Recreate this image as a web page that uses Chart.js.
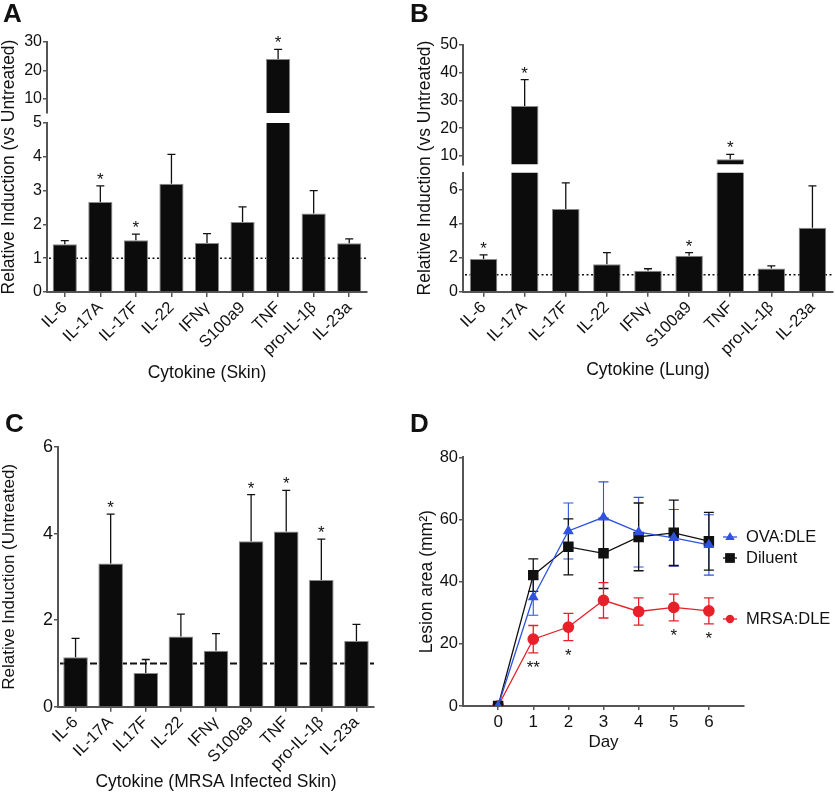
<!DOCTYPE html>
<html>
<head>
<meta charset="utf-8">
<script src="https://cdn.jsdelivr.net/npm/chart.js@4.4.0/dist/chart.umd.min.js"></script>
<style>
  body { margin: 0; background: #fff; }
  #fig { position: relative; width: 835px; height: 793px; overflow: hidden; }
  .panel { position: absolute; }
  .panel canvas { position: absolute; left: 0; top: 0; }
  .letter { position: absolute; font: bold 26px 'Liberation Sans', Arial, sans-serif; line-height: 1; color: #111; }
</style>
</head>
<body>
<div id="fig">
  <div class="panel" style="left:0;top:0;width:415px;height:400px">
    <canvas id="aTop" width="415" height="400"></canvas>
    <canvas id="aBot" width="415" height="400"></canvas>
  </div>
  <div class="panel" style="left:415px;top:0;width:420px;height:400px">
    <canvas id="bTop" width="420" height="400"></canvas>
    <canvas id="bBot" width="420" height="400"></canvas>
  </div>
  <div class="panel" style="left:0;top:400px;width:415px;height:393px">
    <canvas id="cChart" width="415" height="393"></canvas>
  </div>
  <div class="panel" style="left:415px;top:400px;width:420px;height:393px">
    <canvas id="dChart" width="420" height="393"></canvas>
  </div>
  <div class="letter" style="left:3px;top:0">A</div>
  <div class="letter" style="left:410px;top:0">B</div>
  <div class="letter" style="left:5px;top:410px">C</div>
  <div class="letter" style="left:410px;top:410px">D</div>
</div>
<script>
// ---- data ----
var cytokines  = ['IL-6', 'IL-17A', 'IL-17F', 'IL-22', 'IFNγ', 'S100a9', 'TNF', 'pro-IL-1β', 'IL-23a'];
var cytokinesC = ['IL-6', 'IL-17A', 'IL17F', 'IL-22', 'IFNγ', 'S100a9', 'TNF', 'pro-IL-1β', 'IL-23a'];

// A: skin (mean and top of error bar)
var skinMean  = [1.41, 2.66, 1.53, 3.2, 1.45, 2.07, 24.0, 2.32, 1.44];
var skinErr   = [1.52, 3.14, 1.71, 4.07, 1.73, 2.52, 27.4, 3.0, 1.57];
var skinStars = ['', '*', '*', '', '', '', '*', '', ''];

// B: lung
var lungMean  = [1.92, 28.0, 4.87, 1.62, 1.23, 2.12, 8.8, 1.36, 3.76];
var lungErr   = [2.17, 37.5, 6.4, 2.3, 1.35, 2.3, 10.6, 1.52, 6.22];
var lungStars = ['*', '*', '', '', '', '*', '*', '', ''];

// C: MRSA infected skin
var mrsaMean  = [1.14, 3.31, 0.78, 1.62, 1.29, 3.82, 4.05, 2.93, 1.52];
var mrsaErr   = [1.58, 4.45, 1.09, 2.14, 1.69, 4.9, 5.0, 3.87, 1.9];
var mrsaStars = ['', '*', '', '', '', '*', '*', '*', ''];

// D: lesion area
var days       = [0, 1, 2, 3, 4, 5, 6];
var ovaMean    = [0, 35.0, 56.3, 60.7, 55.9, 54.1, 51.8];
var ovaSem     = [0, 5.8, 9.0, 11.4, 11.2, 9.1, 9.7];
var dilMean    = [0, 42.1, 51.2, 49.1, 54.4, 55.7, 53.0];
var dilSem     = [0, 5.2, 9.0, 11.3, 10.9, 10.5, 9.3];
var mrsaDleMean = [0, 21.5, 25.4, 34.0, 30.4, 31.7, 30.6];
var mrsaDleSem  = [0, 4.4, 4.4, 5.7, 4.4, 4.3, 4.2];
var mrsaDleStars = ['', '**', '*', '', '', '*', '*'];

var skinTopTicks = [10, 20, 30], skinBotTicks = [0, 1, 2, 3, 4, 5];
var lungTopTicks = [10, 20, 30, 40, 50], lungBotTicks = [0, 2, 4, 6];
var mrsaTicks = [0, 2, 4, 6];
var areaTicks = [0, 20, 40, 60, 80], dayTicks = [0, 1, 2, 3, 4, 5, 6];

// ---- style ----
var FONT = "'Liberation Sans', Arial, Helvetica, sans-serif";
var INK = '#111';
var AXIS = '#555';
var BLUE = '#2f52e0', RED = '#e8202a';
Chart.defaults.font.family = FONT;
Chart.defaults.color = INK;

function tickList(values) {
  return function (scale) { scale.ticks = values.map(function (v) { return { value: v }; }); };
}

// error bars (bars: mean -> top, lines: mean +/- sem)
function drawErrors(chart, margin) {
  var ctx = chart.ctx, a = chart.chartArea, ys = chart.scales.y;
  ctx.save();
  ctx.beginPath();
  ctx.rect(a.left - 10, a.top - margin, a.right - a.left + 20, a.bottom - a.top + 2 * margin);
  ctx.clip();
  chart.data.datasets.forEach(function (ds, di) {
    if (!ds.errTop && !ds.sem) return;
    var meta = chart.getDatasetMeta(di);
    var cap = ds.capHalf || 4;
    ctx.strokeStyle = ds.errColor || INK;
    ctx.lineWidth = ds.errWidth || 1.3;
    meta.data.forEach(function (el, i) {
      var lo, hi;
      if (ds.errTop) { lo = ds.data[i]; hi = ds.errTop[i]; }
      else { if (!ds.sem[i]) return; lo = ds.data[i].y - ds.sem[i]; hi = ds.data[i].y + ds.sem[i]; }
      var y1 = ys.getPixelForValue(lo), y2 = ys.getPixelForValue(hi), x = el.x;
      ctx.beginPath();
      ctx.moveTo(x, y1); ctx.lineTo(x, y2);
      ctx.moveTo(x - cap, y2); ctx.lineTo(x + cap, y2);
      if (ds.sem) { ctx.moveTo(x - cap, y1); ctx.lineTo(x + cap, y1); }
      ctx.stroke();
    });
  });
  ctx.restore();
}
var errorBars = {
  id: 'errorBars',
  beforeDatasetsDraw: function (chart) { if (chart.config.type === 'line') drawErrors(chart, 4); },
  afterDatasetsDraw: function (chart) { if (chart.config.type === 'bar') drawErrors(chart, 0); }
};

var stars = {
  id: 'stars',
  afterDatasetsDraw: function (chart) {
    var ctx = chart.ctx, ys = chart.scales.y;
    ctx.save();
    ctx.fillStyle = INK;
    ctx.font = '17px ' + FONT;
    ctx.textAlign = 'center';
    ctx.textBaseline = 'alphabetic';
    chart.data.datasets.forEach(function (ds, di) {
      if (!ds.stars) return;
      var meta = chart.getDatasetMeta(di);
      meta.data.forEach(function (el, i) {
        var s = ds.stars[i];
        if (!s) return;
        if (ds.errTop) {
          var v = ds.errTop[i];
          if (v < ys.min || v > ys.max) return;
          ctx.fillText(s, el.x, ys.getPixelForValue(v) - 1);
        } else {
          ctx.fillText(s, el.x, ys.getPixelForValue(ds.data[i].y - ds.sem[i]) + 20);
        }
      });
    });
    ctx.restore();
  }
};

var refLine = {
  id: 'refLine',
  beforeDatasetsDraw: function (chart, args, opts) {
    if (!opts || opts.value == null) return;
    var a = chart.chartArea, ctx = chart.ctx;
    var y = chart.scales.y.getPixelForValue(opts.value);
    ctx.save();
    ctx.strokeStyle = INK;
    ctx.lineWidth = opts.width;
    ctx.setLineDash(opts.dash);
    ctx.beginPath();
    ctx.moveTo(a.left + 2, y); ctx.lineTo(a.right, y);
    ctx.stroke();
    ctx.restore();
  }
};

// y title that spans both halves of a broken axis
var sideTitle = {
  id: 'sideTitle',
  afterDraw: function (chart, args, opts) {
    if (!opts || !opts.text) return;
    var ctx = chart.ctx;
    ctx.save();
    ctx.translate(opts.x, opts.y);
    ctx.rotate(-Math.PI / 2);
    ctx.font = opts.size + 'px ' + FONT;
    ctx.fillStyle = INK;
    ctx.textAlign = 'center';
    ctx.textBaseline = 'middle';
    ctx.fillText(opts.text, 0, 0);
    ctx.restore();
  }
};

function marker(ctx, style, x, y, r) {
  ctx.beginPath();
  if (style === 'triangle') {
    ctx.moveTo(x, y - r); ctx.lineTo(x + r * 0.95, y + r * 0.6); ctx.lineTo(x - r * 0.95, y + r * 0.6); ctx.closePath();
  } else if (style === 'rect') {
    ctx.rect(x - r * 0.75, y - r * 0.75, r * 1.5, r * 1.5);
  } else {
    ctx.arc(x, y, r * 0.8, 0, Math.PI * 2);
  }
  ctx.fill();
}

var sideLegend = {
  id: 'sideLegend',
  afterDraw: function (chart, args, opts) {
    if (!opts || !opts.rows) return;
    var ctx = chart.ctx;
    opts.rows.forEach(function (row) {
      var ds = chart.data.datasets[row.dataset];
      ctx.save();
      ctx.strokeStyle = ds.borderColor;
      ctx.fillStyle = ds.backgroundColor;
      ctx.lineWidth = 1.3;
      ctx.beginPath();
      ctx.moveTo(opts.x - 7, row.y); ctx.lineTo(opts.x + 7, row.y);
      ctx.stroke();
      marker(ctx, ds.pointStyle, opts.x, row.y, ds.pointRadius);
      ctx.fillStyle = INK;
      ctx.font = opts.size + 'px ' + FONT;
      ctx.textAlign = 'left';
      ctx.textBaseline = 'middle';
      ctx.fillText(ds.label, opts.textX, row.y);
      ctx.restore();
    });
  }
};

function yAxis(min, max, ticks, width, size, title) {
  return {
    min: min, max: max,
    afterBuildTicks: tickList(ticks),
    afterFit: function (s) { s.width = width; s.paddingTop = 0; s.paddingBottom = 0; },
    grid: { display: true, drawOnChartArea: false, tickLength: 4, color: AXIS, lineWidth: 1.5 },
    border: { display: true, color: AXIS, width: 2 },
    ticks: { font: { size: size }, padding: 1, color: INK },
    title: title || { display: false }
  };
}

function catAxis(show, height, title, size) {
  if (!show) return { display: false, offset: true };
  return {
    offset: true,
    afterFit: function (s) { s.height = height; s.paddingLeft = 0; s.paddingRight = 0; },
    grid: { display: true, drawOnChartArea: false, offset: false, tickLength: 5, color: AXIS, lineWidth: 1.5 },
    border: { display: true, color: AXIS, width: 2 },
    ticks: { font: { size: size }, minRotation: 45, maxRotation: 45, autoSkip: false, padding: 1, color: INK },
    title: { display: true, text: title, font: { size: 17.5 }, padding: 0, color: INK }
  };
}

function barChart(id, labels, mean, err, st, pad, x, y, barPct, plugins) {
  return new Chart(document.getElementById(id), {
    type: 'bar',
    data: {
      labels: labels,
      datasets: [{
        data: mean, errTop: err, stars: st, clip: 0,
        backgroundColor: '#0c0c0c', borderColor: '#8a8a8a', borderWidth: 1,
        barPercentage: barPct, categoryPercentage: 1
      }]
    },
    options: {
      responsive: false, animation: false,
      layout: { padding: pad },
      plugins: Object.assign({ legend: { display: false }, tooltip: { enabled: false } }, plugins),
      scales: { x: x, y: y }
    },
    plugins: [refLine, errorBars, stars, sideTitle]
  });
}

// ---- A ----
barChart('aTop', cytokines, skinMean, skinErr, skinStars,
  { left: 0, right: 48, top: 42, bottom: 287 },
  catAxis(false), yAxis(5, 30, skinTopTicks, 47, 16), 0.68, {});
barChart('aBot', cytokines, skinMean, skinErr, skinStars,
  { left: 0, right: 48, top: 123, bottom: 16 },
  catAxis(true, 92, 'Cytokine (Skin)', 16.5), yAxis(0, 5, skinBotTicks, 47, 16), 0.68,
  { refLine: { value: 1, dash: [2, 2.5], width: 1.5 },
    sideTitle: { text: 'Relative Induction (vs Untreated)', x: 9, y: 167, size: 17.5 } });

// ---- B ----
barChart('bTop', cytokines, lungMean, lungErr, lungStars,
  { left: 0, right: 2, top: 45, bottom: 235.7 },
  catAxis(false), yAxis(7, 50, lungTopTicks, 48, 16), 0.67, {});
barChart('bBot', cytokines, lungMean, lungErr, lungStars,
  { left: 0, right: 2, top: 172.7, bottom: 19 },
  catAxis(true, 89.3, 'Cytokine (Lung)', 16.5), yAxis(0, 7, lungBotTicks, 48, 16), 0.67,
  { refLine: { value: 1, dash: [2, 2.5], width: 1.5 },
    sideTitle: { text: 'Relative Induction (vs Untreated)', x: 10, y: 168, size: 17.5 } });

// ---- C ----
barChart('cChart', cytokinesC, mrsaMean, mrsaErr, mrsaStars,
  { left: 0, right: 41, top: 47, bottom: 0 },
  catAxis(true, 86.3, 'Cytokine (MRSA Infected Skin)', 16.5),
  yAxis(0, 6, mrsaTicks, 58, 18, { display: true, text: 'Relative Induction (Untreated)',
    font: { size: 17, lineHeight: 1 }, padding: { top: 0.5, bottom: 0 }, color: INK }),
  0.70,
  { refLine: { value: 1, dash: [7, 3], width: 2 } });

// ---- D ----
function pts(mean) { return days.map(function (d, i) { return { x: d, y: mean[i] }; }); }
new Chart(document.getElementById('dChart'), {
  type: 'line',
  data: {
    datasets: [
      { label: 'OVA:DLE', data: pts(ovaMean), sem: ovaSem, borderColor: BLUE, backgroundColor: BLUE,
        errColor: BLUE, errWidth: 1.1, capHalf: 5, pointStyle: 'triangle', pointRadius: 5, borderWidth: 1.3 },
      { label: 'Diluent', data: pts(dilMean), sem: dilSem, borderColor: INK, backgroundColor: INK,
        errColor: INK, errWidth: 1.3, capHalf: 5, pointStyle: 'rect', pointRadius: 6.5, borderWidth: 1.3 },
      { label: 'MRSA:DLE', data: pts(mrsaDleMean), sem: mrsaDleSem, stars: mrsaDleStars,
        borderColor: RED, backgroundColor: RED, errColor: RED, errWidth: 1.3, capHalf: 5,
        pointStyle: 'circle', pointRadius: 5.2, borderWidth: 1.3 }
    ]
  },
  options: {
    responsive: false, animation: false,
    layout: { padding: { left: 0, right: 91, top: 57.3, bottom: 40 } },
    plugins: {
      legend: { display: false }, tooltip: { enabled: false },
      sideLegend: { x: 315, textX: 331, size: 16.5,
        rows: [{ dataset: 0, y: 137 }, { dataset: 1, y: 158 }, { dataset: 2, y: 219 }] }
    },
    scales: {
      x: {
        type: 'linear', min: -1, max: 7,
        afterBuildTicks: tickList(dayTicks),
        afterFit: function (s) { s.height = 47; s.paddingLeft = 0; s.paddingRight = 0; },
        grid: { display: true, drawOnChartArea: false, tickLength: 4, color: AXIS, lineWidth: 1.5 },
        border: { display: true, color: AXIS, width: 2 },
        ticks: { font: { size: 17 }, padding: 2, color: INK },
        title: { display: true, text: 'Day', font: { size: 17 }, padding: 0, color: INK }
      },
      y: yAxis(0, 80, areaTicks, 48, 16.5, { display: true, text: 'Lesion area (mm²)',
        font: { size: 17.5, lineHeight: 1 }, padding: { top: 3, bottom: 0 }, color: INK })
    }
  },
  plugins: [errorBars, stars, sideLegend]
});
</script>
</body>
</html>
